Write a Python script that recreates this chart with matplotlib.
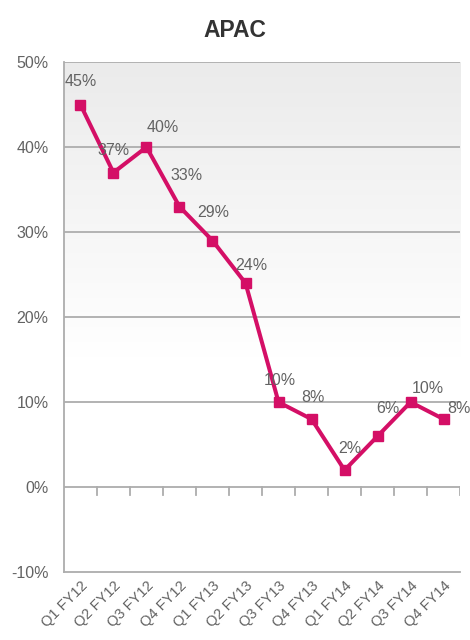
import matplotlib
matplotlib.use('Agg')

import numpy as np
import matplotlib.pyplot as plt
from matplotlib.colors import LinearSegmentedColormap

plt.rcParams['font.family'] = ['Liberation Sans', 'DejaVu Sans']

quarters = ['Q1 FY12', 'Q2 FY12', 'Q3 FY12', 'Q4 FY12',
            'Q1 FY13', 'Q2 FY13', 'Q3 FY13', 'Q4 FY13',
            'Q1 FY14', 'Q2 FY14', 'Q3 FY14', 'Q4 FY14']
apac = [45, 37, 40, 33, 29, 24, 10, 8, 2, 6, 10, 8]

# décalage des étiquettes (pixels) pour imiter la mise en page d'origine
label_dx = [0, 0, 16, 7, 1, 6, 1, 1, 5, 10, 17, 15]
label_dy = [23, 22, 20, 31, 28, 18, 22, 22, 22, 28, 14, 11]

line_color = '#d40f66'
text_color = '#636363'
grid_color = '#adadad'

fig = plt.figure(figsize=(4.7, 6.4), dpi=100)
ax = fig.add_axes([0.136, 0.106, 0.843, 0.797])

x = np.arange(len(quarters))
ax.set_xlim(-0.5, len(quarters) - 0.5)
ax.set_ylim(-10, 50)

# fond en dégradé gris -> blanc (blanc sous ~15%)
grad = np.clip(np.linspace(0, 1, 256) / 0.58, 0, 1).reshape(-1, 1)
cmap = LinearSegmentedColormap.from_list('g', ['#ebebeb', '#ffffff'])
ax.imshow(grad, extent=[-0.5, len(quarters) - 0.5, -10, 50], aspect='auto',
          cmap=cmap, origin='upper', zorder=0)

for yv in range(0, 60, 10):
    ax.axhline(yv, color=grid_color, lw=1.3, zorder=1)

# petites graduations sur la ligne du zéro
for xb in np.arange(0.5, len(quarters), 1.0):
    ax.plot([xb, xb], [0, -0.9], color=grid_color, lw=1.3, zorder=1)

ax.plot(x, apac, color=line_color, lw=2.9, marker='s', markersize=7.5, zorder=3)

for xi, v, dx, dy in zip(x, apac, label_dx, label_dy):
    ax.annotate(f'{v}%', (xi, v), xytext=(dx, dy), textcoords='offset pixels',
                ha='center', va='center', fontsize=11.5, color=text_color, zorder=4)

ax.set_yticks(range(-10, 60, 10))
ax.set_yticklabels([f'{t}%' for t in range(-10, 60, 10)])
ax.set_xticks(x)
ax.set_xticklabels(quarters, rotation=45, ha='right', rotation_mode='anchor')
ax.tick_params(axis='both', length=0, colors=text_color, labelsize=11.5)
ax.tick_params(axis='x', labelsize=10.5, pad=5)
ax.tick_params(axis='y', pad=11)

for s in ['top', 'right']:
    ax.spines[s].set_visible(False)
for s in ['left', 'bottom']:
    ax.spines[s].set_color(grid_color)
    ax.spines[s].set_linewidth(1.3)

fig.suptitle('APAC', y=0.97, fontsize=16.5, fontweight='bold', color='#333333')

fig.savefig('out.png', dpi=100)
